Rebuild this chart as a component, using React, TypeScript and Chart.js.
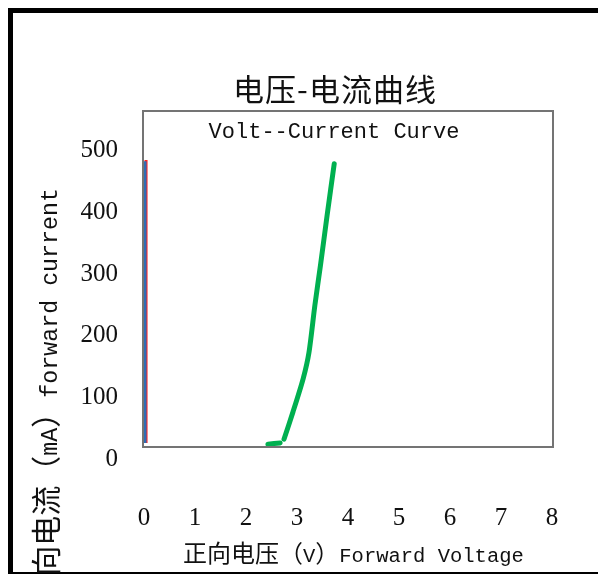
import React, { useEffect, useRef } from "react";
import { Chart, registerables } from "chart.js";

Chart.register(...registerables);

// Axis ticks
const xTicks = [0, 1, 2, 3, 4, 5, 6, 7, 8];
const yTicks = [0, 100, 200, 300, 400, 500];

// Green curve: forward voltage (V) vs forward current (mA); null breaks the line
const greenVoltage = [2.43, 2.67, 2.71, 2.745, 2.92, 3.12, 3.235, 3.35, 3.46, 3.59, 3.73];
const greenCurrent = [3, 5, null, 11, 55, 109, 152, 228, 293, 374, 458];

// Vertical traces at 0 V
const blueVoltage = [0.02, 0.02];
const blueCurrent = [5, 462];
const redVoltage = [0.04, 0.04];
const redCurrent = [5, 464];

const chartTitle = "电压-电流曲线";
const chartSubtitle = "Volt--Current Curve";
const xTitleParts: [string, "cjk" | "latin"][] = [
  ["正向电压（", "cjk"],
  ["V", "latin"],
  ["）", "cjk"],
  ["Forward Voltage", "latin"],
];
const yTitleParts: [string, "cjk" | "latin"][] = [
  ["正向电流（", "cjk"],
  ["mA", "latin"],
  ["）", "cjk"],
  ["forward current", "latin"],
];

const CJK = '"Noto Sans CJK SC"';
const MONO = '"Liberation Mono"';
const TEXT = "#111";

function toPoints(xs: number[], ys: (number | null)[]) {
  return xs.map((x, i) => ({ x, y: ys[i] }));
}

function drawParts(
  ctx: CanvasRenderingContext2D,
  parts: [string, "cjk" | "latin"][],
  cjkSize: number,
  latinSize: number
) {
  let x = 0;
  for (const [text, kind] of parts) {
    ctx.font = kind === "cjk" ? `${cjkSize}px ${CJK}` : `${latinSize}px ${MONO}`;
    ctx.fillText(text, x, 0);
    x += ctx.measureText(text).width;
  }
}

function partsWidth(
  ctx: CanvasRenderingContext2D,
  parts: [string, "cjk" | "latin"][],
  cjkSize: number,
  latinSize: number
) {
  let w = 0;
  for (const [text, kind] of parts) {
    ctx.font = kind === "cjk" ? `${cjkSize}px ${CJK}` : `${latinSize}px ${MONO}`;
    w += ctx.measureText(text).width;
  }
  return w;
}

const decorations = {
  id: "decorations",
  beforeDraw(chart: any) {
    const ctx = chart.ctx as CanvasRenderingContext2D;
    ctx.save();
    ctx.fillStyle = "#fff";
    ctx.fillRect(0, 0, chart.width, chart.height);
    // outer frame
    ctx.fillStyle = "#000";
    ctx.fillRect(8, 8, 5, chart.height - 8);
    ctx.fillRect(8, 8, chart.width - 8, 5);
    ctx.fillRect(8, chart.height - 2, chart.width - 8, 2);
    ctx.restore();
  },
  afterDatasetsDraw(chart: any) {
    const ctx = chart.ctx as CanvasRenderingContext2D;
    const { left, top, right, bottom } = chart.chartArea;
    ctx.save();
    ctx.strokeStyle = "#747474";
    ctx.lineWidth = 2;
    ctx.strokeRect(left - 1, top - 1, right - left + 2, bottom - top + 2);
    ctx.restore();
  },
  afterDraw(chart: any) {
    const ctx = chart.ctx as CanvasRenderingContext2D;
    ctx.save();
    ctx.fillStyle = TEXT;
    ctx.textBaseline = "alphabetic";

    // main title
    ctx.textAlign = "center";
    ctx.font = `31px ${CJK}`;
    (ctx as any).letterSpacing = "1px";
    ctx.fillText(chartTitle, 335, 101);
    (ctx as any).letterSpacing = "0px";

    // subtitle inside the plot frame
    ctx.font = `22px ${MONO}`;
    ctx.fillText(chartSubtitle, 334, 138);

    // x-axis title
    ctx.textAlign = "left";
    ctx.save();
    ctx.translate(183, 562);
    drawParts(ctx, xTitleParts, 24, 20.5);
    ctx.restore();

    // y-axis title, reading upward
    const w = partsWidth(ctx, yTitleParts, 30, 23.3);
    ctx.save();
    ctx.translate(57, 188 + w);
    ctx.rotate(-Math.PI / 2);
    drawParts(ctx, yTitleParts, 30, 23.3);
    ctx.restore();

    ctx.restore();
  },
};

export default function App() {
  const canvasRef = useRef<HTMLCanvasElement | null>(null);

  useEffect(() => {
    if (!canvasRef.current) return;
    const chart = new Chart(canvasRef.current, {
      type: "scatter",
      data: {
        datasets: [
          {
            data: toPoints(blueVoltage, blueCurrent),
            showLine: true,
            borderColor: "#2F6DB5",
            borderWidth: 3,
            pointRadius: 0,
            order: 0,
          },
          {
            data: toPoints(redVoltage, redCurrent),
            showLine: true,
            borderColor: "#FF2020",
            borderWidth: 3,
            pointRadius: 0,
            order: 1,
          },
          {
            data: toPoints(greenVoltage, greenCurrent),
            showLine: true,
            spanGaps: false,
            borderColor: "#00B050",
            borderWidth: 5,
            borderCapStyle: "round",
            borderJoinStyle: "round",
            pointRadius: 0,
            tension: 0.25,
            order: 2,
          },
        ] as any,
      },
      options: {
        responsive: false,
        animation: false,
        devicePixelRatio: 1,
        layout: { padding: { top: 112, right: 46, bottom: 0, left: 0 } },
        plugins: {
          legend: { display: false },
          tooltip: { enabled: false },
          title: { display: false },
        },
        scales: {
          x: {
            type: "linear",
            min: 0,
            max: 8,
            afterBuildTicks: (s: any) => {
              s.ticks = xTicks.map((v) => ({ value: v }));
            },
            afterFit: (s: any) => {
              s.height = 128;
              s.paddingLeft = 0;
              s.paddingRight = 0;
            },
            grid: { display: false, drawTicks: false },
            border: { display: false },
            ticks: {
              font: { family: "Liberation Serif", size: 25 },
              color: TEXT,
              padding: 57,
              maxRotation: 0,
              autoSkip: false,
            },
          },
          y: {
            type: "linear",
            min: 0,
            max: 542,
            afterBuildTicks: (s: any) => {
              s.ticks = yTicks.map((v) => ({ value: v }));
            },
            afterFit: (s: any) => {
              s.width = 144;
              s.paddingTop = 0;
              s.paddingBottom = 0;
            },
            grid: { display: false, drawTicks: false },
            border: { display: false },
            ticks: {
              font: { family: "Liberation Serif", size: 25 },
              color: TEXT,
              padding: 26,
              labelOffset: 13,
              autoSkip: false,
            },
          },
        },
      } as any,
      plugins: [decorations],
    });
    return () => chart.destroy();
  }, []);

  return (
    <div style={{ position: "fixed", left: 0, top: 0, width: 598, height: 574, background: "#fff" }}>
      <canvas ref={canvasRef} width={598} height={574} style={{ display: "block" }} />
    </div>
  );
}
